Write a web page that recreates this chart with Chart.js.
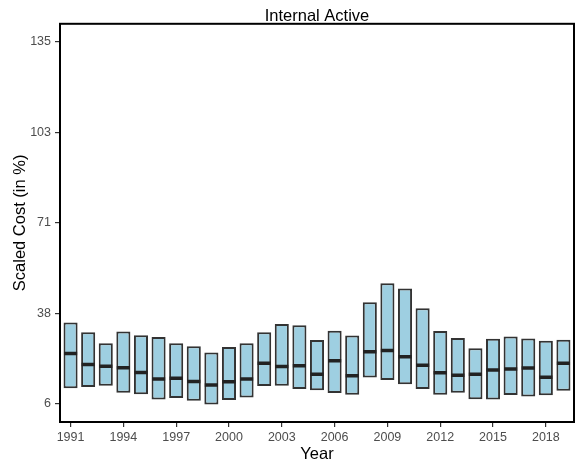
<!DOCTYPE html>
<html>
<head>
<meta charset="utf-8">
<script src="https://cdn.jsdelivr.net/npm/chart.js@4.4.0/dist/chart.umd.min.js"></script>
<style>
  html, body { margin: 0; padding: 0; background: #fff; }
  #wrap { width: 575px; height: 465px; }
</style>
</head>
<body>
<div id="wrap"><canvas id="costChart" width="575" height="465"></canvas></div>
<script>
// Box data (lower hinge, median, upper hinge)
const years = [1991, 1992, 1993, 1994, 1995, 1996, 1997, 1998, 1999, 2000,
               2001, 2002, 2003, 2004, 2005, 2006, 2007, 2008, 2009, 2010,
               2011, 2012, 2013, 2014, 2015, 2016, 2017, 2018, 2019];
const lower = [11.6, 12.0, 12.5, 10.0, 9.4, 7.6, 8.1, 7.1, 5.8, 7.4,
               8.3, 12.4, 12.5, 11.3, 10.9, 9.9, 9.3, 15.4, 14.5, 13.0,
               11.3, 9.3, 10.0, 7.7, 7.6, 9.2, 8.6, 9.1, 10.7];
const median = [24.0, 20.0, 19.4, 18.9, 17.2, 14.9, 15.1, 14.0, 12.7, 13.9,
                14.9, 20.5, 19.3, 19.6, 16.6, 21.4, 16.0, 24.6, 25.0, 22.8,
                19.8, 17.1, 16.2, 16.6, 18.1, 18.4, 18.8, 15.5, 20.5];
const upper = [35.0, 31.5, 27.6, 31.8, 30.5, 29.8, 27.6, 26.5, 24.3, 26.3,
               27.6, 31.5, 34.5, 34.0, 28.8, 32.1, 30.4, 42.2, 49.0, 47.1,
               40.1, 32.0, 29.5, 25.8, 29.2, 30.0, 29.3, 28.5, 28.9];

const xTicks = [1991, 1994, 1997, 2000, 2003, 2006, 2009, 2012, 2015, 2018];
const yTicks = [6, 38.25, 70.5, 102.75, 135];
const yTickLabels = ['6', '38', '71', '103', '135'];

const fontFamily = "'Liberation Sans', Arial, Helvetica, sans-serif";

// full panel border around the plot area
const panelBorder = {
    id: 'panelBorder',
    afterDraw(chart) {
        const { ctx, chartArea: a } = chart;
        ctx.save();
        ctx.strokeStyle = '#000';
        ctx.lineWidth = 2;
        ctx.strokeRect(a.left, a.top, a.right - a.left, a.bottom - a.top);
        ctx.restore();
    }
};

const ctx = document.getElementById('costChart').getContext('2d');
new Chart(ctx, {
    type: 'bar',
    data: {
        datasets: [
            {
                type: 'scatter',
                label: 'Median',
                data: years.map((y, i) => ({ x: y, y: median[i] })),
                pointStyle: 'line',
                pointRadius: 6.6,
                pointHoverRadius: 6.6,
                pointBorderWidth: 3.5,
                borderColor: '#222',
                backgroundColor: '#222',
                order: 1
            },
            {
                label: 'Box',
                data: years.map((y, i) => ({ x: y, y: [lower[i], upper[i]] })),
                backgroundColor: '#9ecfe1',
                borderColor: '#333333',
                borderWidth: 2,
                borderSkipped: false,
                categoryPercentage: 1,
                barPercentage: 0.8,
                order: 2
            }
        ]
    },
    options: {
        responsive: false,
        animation: false,
        layout: { autoPadding: false, padding: { left: 0, right: 1, top: 0, bottom: 0 } },
        plugins: {
            legend: { display: false },
            tooltip: { enabled: false },
            title: {
                display: true,
                text: 'Internal Active',
                fullSize: false,
                color: '#000',
                font: { family: fontFamily, size: 16.5, weight: 'normal', lineHeight: 1.2 },
                padding: { top: 7, bottom: -3 }
            }
        },
        scales: {
            x: {
                type: 'linear',
                min: 1990.4,
                max: 2019.6,
                offset: false,
                afterBuildTicks: scale => {
                    scale.ticks = xTicks.map(v => ({ value: v }));
                },
                afterFit: scale => {
                    scale.height = 43;
                    scale.paddingLeft = 0;
                    scale.paddingRight = 0;
                },
                ticks: {
                    color: '#4d4d4d',
                    font: { family: fontFamily, size: 12.5 },
                    padding: 3,
                    maxRotation: 0,
                    autoSkip: false,
                    callback: v => String(v)
                },
                grid: {
                    display: true,
                    drawOnChartArea: false,
                    drawTicks: true,
                    tickLength: 5,
                    color: '#333',
                    lineWidth: 1.2,
                    offset: false
                },
                border: { display: true, color: '#000', width: 2 },
                title: {
                    display: true,
                    text: 'Year',
                    color: '#000',
                    font: { family: fontFamily, size: 16.5, lineHeight: 1.2 },
                    padding: { top: 0, bottom: 1 }
                }
            },
            y: {
                type: 'linear',
                min: -0.45,
                max: 141.45,
                afterBuildTicks: scale => {
                    scale.ticks = yTicks.map(v => ({ value: v }));
                },
                afterFit: scale => {
                    scale.width = 60;
                    scale.paddingTop = 0;
                    scale.paddingBottom = 0;
                },
                ticks: {
                    color: '#4d4d4d',
                    font: { family: fontFamily, size: 12.5 },
                    padding: 4,
                    autoSkip: false,
                    callback: (v, i) => yTickLabels[i]
                },
                grid: {
                    display: true,
                    drawOnChartArea: false,
                    drawTicks: true,
                    tickLength: 5,
                    color: '#333',
                    lineWidth: 1.2
                },
                border: { display: true, color: '#000', width: 2 },
                title: {
                    display: true,
                    text: 'Scaled Cost (in %)',
                    color: '#000',
                    font: { family: fontFamily, size: 16.5, lineHeight: 1.2 },
                    padding: { top: 11, bottom: 0 }
                }
            }
        }
    },
    plugins: [panelBorder]
});
</script>
</body>
</html>
